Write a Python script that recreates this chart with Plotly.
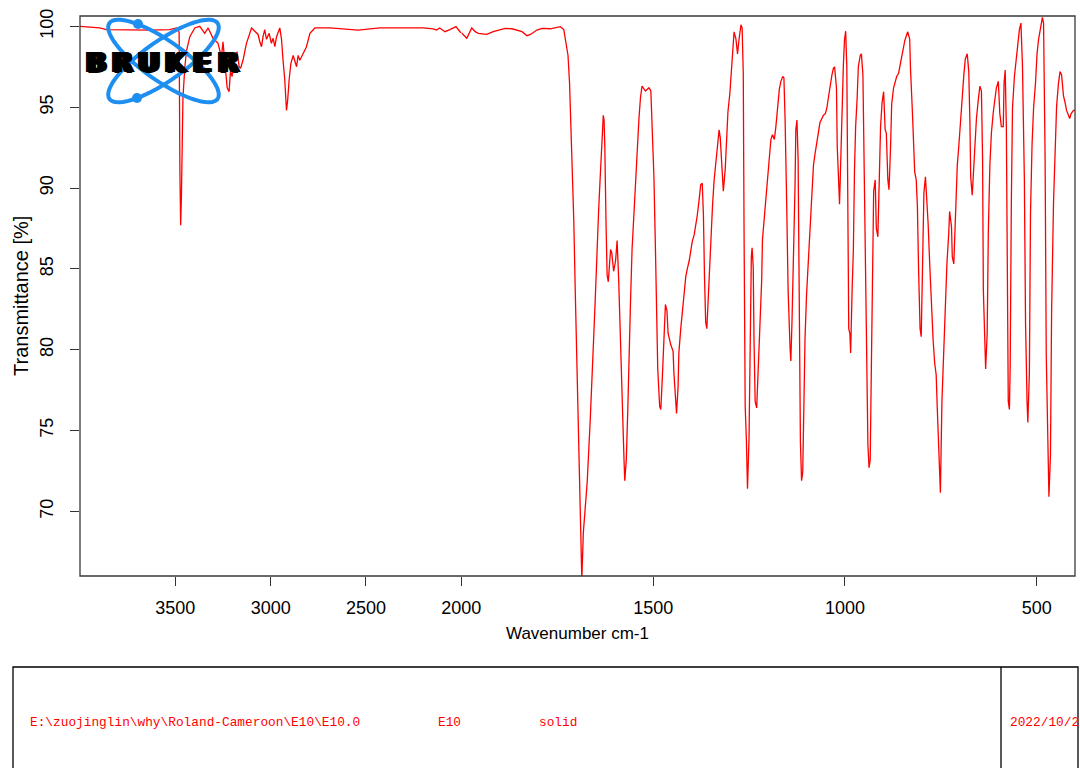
import numpy as np
import plotly.graph_objects as go

# ---------------- data ----------------
wn_high = [4000, 3897, 3861, 3756, 3634, 3529, 3494, 3484, 3480, 3476,
           3472, 3468, 3465, 3460, 3450, 3441, 3424, 3398, 3372, 3346,
           3328, 3302, 3276, 3258, 3250, 3241, 3228, 3218, 3211, 3202,
           3193, 3176, 3165, 3158, 3145, 3127, 3100, 3083, 3066, 3057,
           3048, 3040, 3031, 3022, 3008, 2996, 2987, 2978, 2969, 2952,
           2943, 2935, 2926, 2917, 2911, 2903, 2894, 2882, 2873, 2864,
           2856, 2847, 2830, 2812, 2794, 2768, 2688, 2654, 2611, 2541,
           2427, 2200, 2148, 2130, 2113, 2086, 2060, 2028, 2007, 2000]
tr_high = [100.0, 99.9, 99.8, 99.77, 99.77, 99.8, 99.9, 99.8, 99.6, 91.0,
           87.7, 89.5, 92.8, 95.6, 97.5, 98.5, 99.36, 99.9, 100.0, 99.57,
           99.9, 99.26, 98.95, 98.1, 99.05, 97.7, 96.2, 95.95, 97.2, 96.9,
           98.3, 98.4, 97.5, 97.4, 97.9, 98.95, 99.9, 99.7, 99.5, 99.05,
           98.74, 99.36, 99.8, 99.2, 99.57, 98.95, 99.26, 98.74, 99.36, 99.9,
           99.2, 97.9, 96.7, 94.8, 95.4, 96.7, 97.7, 98.2, 97.8, 97.5,
           98.2, 97.9, 98.3, 98.74, 99.57, 99.9, 99.9, 99.87, 99.85, 99.77,
           99.9, 99.9, 99.85, 99.77, 99.9, 99.67, 99.8, 99.98, 99.67, 99.6]

wn_low = [2000, 1995, 1986, 1973, 1964, 1956, 1934, 1917, 1899, 1886,
          1868, 1842, 1829, 1820, 1803, 1790, 1768, 1742, 1733, 1729,
          1722, 1718, 1711, 1707, 1703, 1698, 1694, 1690, 1686, 1682,
          1672, 1664, 1659, 1655, 1651, 1646, 1642, 1638, 1633, 1630,
          1628, 1626, 1623, 1620, 1617, 1611, 1608, 1603, 1598, 1594,
          1590, 1585, 1581, 1576, 1574, 1570, 1566, 1563, 1559, 1555,
          1550, 1546, 1542, 1537, 1533, 1529, 1520, 1511, 1506, 1502,
          1498, 1494, 1491, 1488, 1483, 1480, 1476, 1472, 1468, 1464,
          1461, 1454, 1448, 1446, 1441, 1439, 1435, 1433, 1428, 1424,
          1420, 1415, 1411, 1406, 1402, 1398, 1393, 1389, 1385, 1380,
          1376, 1372, 1369, 1366, 1363, 1360, 1356, 1352, 1348, 1345,
          1341, 1337, 1332, 1328, 1325, 1321, 1317, 1312, 1308, 1305,
          1300, 1296, 1291, 1289, 1284, 1280, 1276, 1271, 1268, 1265,
          1263, 1260, 1257, 1254, 1250, 1247, 1244, 1242, 1239, 1237,
          1234, 1230, 1226, 1222, 1217, 1215, 1210, 1206, 1202, 1197,
          1193, 1189, 1184, 1180, 1175, 1171, 1167, 1162, 1159, 1156,
          1152, 1148, 1143, 1141, 1138, 1134, 1130, 1128, 1125, 1122,
          1119, 1116, 1113, 1110, 1107, 1104, 1100, 1095, 1091, 1087,
          1082, 1078, 1074, 1069, 1065, 1060, 1056, 1051, 1047, 1043,
          1039, 1034, 1030, 1027, 1025, 1022, 1020, 1017, 1014, 1012,
          1008, 1004, 1001, 998, 995, 992, 990, 987, 985, 981,
          978, 975, 972, 968, 965, 960, 957, 953, 951, 947,
          944, 940, 937, 934, 931, 927, 925, 921, 918, 914,
          911, 907, 903, 899, 895, 892, 888, 885, 881, 878,
          873, 869, 865, 860, 855, 849, 844, 840, 836, 831,
          829, 824, 821, 818, 814, 811, 808, 804, 801, 797,
          794, 790, 787, 783, 779, 775, 770, 766, 762, 759,
          755, 751, 747, 742, 738, 734, 729, 727, 722, 720,
          716, 711, 707, 703, 699, 694, 690, 686, 681, 677,
          674, 672, 668, 665, 661, 657, 652, 648, 644, 641,
          639, 635, 633, 629, 626, 622, 618, 613, 609, 605,
          600, 596, 592, 587, 585, 582, 579, 577, 574, 571,
          569, 566, 563, 558, 554, 550, 545, 541, 537, 532,
          529, 525, 523, 519, 516, 512, 508, 503, 499, 495,
          490, 485, 482, 478, 475, 471, 468, 464, 461, 456,
          452, 448, 443, 439, 435, 430, 426, 422, 417, 414,
          410, 404, 400]
tr_low = [99.6, 99.46, 99.26, 99.9, 99.67, 99.57, 99.5, 99.67, 99.77, 99.87,
          99.85, 99.67, 99.42, 99.5, 99.77, 99.87, 99.85, 99.98, 99.8, 99.2,
          98.2, 96.5, 91.6, 88.0, 83.5, 78.3, 73.0, 69.2, 65.8, 68.7,
          71.8, 75.7, 78.1, 80.8, 83.1, 86.9, 88.7, 90.7, 92.9, 94.5,
          94.2, 92.5, 88.0, 84.6, 84.2, 86.2, 86.0, 84.85, 85.5, 86.75,
          84.4, 80.1, 76.1, 73.2, 71.9, 73.2, 76.4, 79.9, 83.0, 86.2,
          88.7, 90.5, 92.0, 94.3, 95.6, 96.3, 96.0, 96.2, 96.0, 93.8,
          90.7, 86.2, 82.4, 78.8, 76.5, 76.3, 78.3, 81.0, 82.8, 82.4,
          81.0, 80.3, 79.9, 78.6, 76.5, 76.05, 77.7, 79.8, 81.3, 82.4,
          83.3, 84.5, 85.0, 85.5, 86.1, 86.7, 87.1, 87.65, 88.3, 89.3,
          90.2, 90.3, 88.4, 84.4, 81.7, 81.3, 83.5, 85.7, 87.5, 89.0,
          90.5, 91.6, 92.7, 93.6, 93.1, 91.4, 89.8, 91.2, 93.6, 94.7,
          95.85, 97.4, 99.0, 99.66, 99.2, 98.3, 99.2, 100.1, 99.9, 97.1,
          87.5, 76.5, 74.5, 71.4, 74.5, 81.3, 85.75, 86.3, 85.1, 80.6,
          76.8, 76.4, 78.8, 81.5, 84.3, 86.8, 88.2, 89.8, 90.5, 91.9,
          93.0, 93.3, 93.0, 93.8, 95.2, 96.1, 96.6, 96.9, 96.8, 94.3,
          89.3, 83.6, 80.1, 79.3, 81.7, 85.5, 90.2, 93.6, 94.2, 91.8,
          83.3, 74.3, 71.9, 72.4, 76.5, 80.7, 83.4, 85.75, 87.8, 89.4,
          91.4, 92.1, 92.7, 93.6, 94.05, 94.3, 94.5, 94.6, 94.95, 95.6,
          96.3, 96.97, 97.4, 97.5, 97.0, 96.2, 92.6, 90.5, 89.0, 90.7,
          94.95, 97.6, 99.2, 99.7, 97.5, 88.7, 81.3, 81.0, 79.8, 83.9,
          86.1, 91.1, 93.8, 95.6, 97.5, 98.2, 98.3, 97.0, 93.0, 88.0,
          80.5, 74.1, 72.7, 73.2, 78.9, 85.97, 89.8, 90.5, 87.5, 86.98,
          90.0, 93.8, 95.3, 95.96, 93.6, 93.4, 90.5, 89.9, 92.5, 95.2,
          96.2, 96.6, 96.9, 97.1, 97.75, 98.4, 99.1, 99.4, 99.66, 99.2,
          97.4, 94.7, 92.5, 91.0, 90.5, 88.9, 85.1, 81.3, 80.8, 86.2,
          89.7, 90.7, 89.55, 87.8, 85.4, 82.8, 80.6, 79.2, 78.45, 76.3,
          73.1, 71.15, 76.8, 80.1, 83.05, 85.3, 87.3, 88.55, 87.6, 85.75,
          85.3, 88.7, 91.4, 92.6, 94.3, 95.6, 96.97, 97.98, 98.3, 97.2,
          94.05, 90.7, 89.55, 90.8, 92.9, 94.3, 95.5, 96.3, 96.0, 91.8,
          83.7, 81.0, 78.8, 81.0, 87.3, 91.4, 93.4, 94.7, 95.6, 96.2,
          96.6, 94.6, 93.8, 93.8, 96.5, 97.3, 93.8, 83.5, 76.8, 76.3,
          79.0, 89.1, 94.95, 96.9, 97.9, 98.8, 99.8, 100.2, 97.6, 90.5,
          81.7, 76.8, 75.5, 78.5, 88.45, 92.7, 94.95, 96.5, 98.3, 99.2,
          100.0, 100.56, 100.2, 92.0, 79.7, 73.5, 70.9, 73.5, 82.4, 89.1,
          92.8, 95.05, 96.5, 97.2, 97.0, 95.7, 95.3, 94.8, 94.5, 94.3,
          94.6, 94.8, 94.8]

x_ticks_high = [3500, 3000, 2500, 2000]
x_ticks_low = [1500, 1000, 500]
y_ticks = [70, 75, 80, 85, 90, 95, 100]

info_texts = ["E:\\zuojinglin\\why\\Roland-Cameroon\\E10\\E10.0", "E10", "solid", "2022/10/2"]
logo_letters = ["B", "R", "U", "K", "E", "R"]

# ---------------- layout geometry ----------------
W, H = 1080, 768
PL, PR, PT, PB = 80, 1075, 16, 576
SPLIT = (461.4 - PL) / (PR - PL)   # 4000-2000 part is drawn at half scale


def px(x):
    return (x - PL) / (PR - PL)


def py(y):
    return (PB - y) / (PB - PT)


RED = "#ff0000"
fig = go.Figure()
fig.add_trace(go.Scatter(x=wn_high, y=tr_high, xaxis="x", yaxis="y", mode="lines",
                         line=dict(color=RED, width=1.3), hoverinfo="skip", showlegend=False))
fig.add_trace(go.Scatter(x=wn_low, y=tr_low, xaxis="x2", yaxis="y", mode="lines",
                         line=dict(color=RED, width=1.3), hoverinfo="skip", showlegend=False))

tick_font = dict(family="Liberation Sans, Arial, sans-serif", size=18, color="#000000")
axis_common = dict(showgrid=False, zeroline=False, showline=False, ticks="outside",
                   ticklen=9, tickwidth=1.2, tickcolor="#333333", tickfont=tick_font,
                   fixedrange=True, automargin=False)

fig.update_layout(
    width=W, height=H, autosize=False,
    margin=dict(l=PL, r=W - PR, t=PT, b=H - PB, pad=0, autoexpand=False),
    paper_bgcolor="white", plot_bgcolor="white",
    xaxis=dict(domain=[0, SPLIT], range=[4000, 1999.5], tickmode="array",
               tickvals=x_ticks_high, ticktext=[str(v) for v in x_ticks_high],
               anchor="y", ticklabelstandoff=6, **axis_common),
    xaxis2=dict(domain=[SPLIT, 1], range=[2000, 400], tickmode="array",
                tickvals=x_ticks_low, ticktext=[str(v) for v in x_ticks_low],
                anchor="y", ticklabelstandoff=6, **axis_common),
    yaxis=dict(range=[66.0, 100.64], tickmode="array", tickvals=y_ticks,
               ticktext=[str(v) for v in y_ticks], tickangle=-90, anchor="x",
               ticklabelstandoff=10, **axis_common),
)

shapes = []
# plot frame
shapes.append(dict(type="rect", xref="paper", yref="paper", x0=0, x1=1, y0=0, y1=1,
                   line=dict(color="#3a3a3a", width=1.3), layer="above"))


# Bruker logo: two crossed orbits
def ellipse_path(cx, cy, a, b, theta_deg):
    t = np.linspace(0, 2 * np.pi, 90)
    th = np.radians(theta_deg)
    xs = cx + a * np.cos(t) * np.cos(th) - b * np.sin(t) * np.sin(th)
    ys = cy + a * np.cos(t) * np.sin(th) + b * np.sin(t) * np.cos(th)
    pts = [f"{px(x):.5f},{py(y):.5f}" for x, y in zip(xs, ys)]
    return "M " + " L ".join(pts) + " Z"


BLUE = "#1e8ff0"
for ang in (35, -35):
    shapes.append(dict(type="path", xref="paper", yref="paper",
                       path=ellipse_path(163.5, 61, 66, 20, ang),
                       line=dict(color=BLUE, width=4), layer="above"))
for (dx, dy) in [(138, 24), (137, 98)]:
    r = 5
    shapes.append(dict(type="circle", xref="paper", yref="paper",
                       x0=px(dx - r), x1=px(dx + r), y0=py(dy + r), y1=py(dy - r),
                       fillcolor=BLUE, line=dict(color=BLUE, width=0), layer="above"))

# info box below the chart
shapes.append(dict(type="rect", xref="paper", yref="paper",
                   x0=px(13), x1=px(1078), y0=py(820), y1=py(667),
                   line=dict(color="#000000", width=1.3), layer="above"))
shapes.append(dict(type="line", xref="paper", yref="paper",
                   x0=px(1001), x1=px(1001), y0=py(820), y1=py(667),
                   line=dict(color="#000000", width=1.3), layer="above"))

annotations = []
for i, ch in enumerate(logo_letters):
    annotations.append(dict(xref="paper", yref="paper", x=px(83 + 26.5 * (i + 0.5)), y=py(62),
                            text=f"<b>{ch}</b>", showarrow=False, xanchor="center", yanchor="middle",
                            font=dict(family="DejaVu Sans, sans-serif", size=27, color="#000000",
                                      shadow="2.5px 0 0 #000, -2.5px 0 0 #000, 1.2px 0 0 #000, -1.2px 0 0 #000, 0 1px 0 #000")))

annotations.append(dict(xref="paper", yref="paper", x=0.5, y=py(633), text="Wavenumber cm-1",
                        showarrow=False, xanchor="center", yanchor="middle",
                        font=dict(family="Liberation Sans, Arial, sans-serif", size=17, color="#000000")))
annotations.append(dict(xref="paper", yref="paper", x=px(21), y=py(296), text="Transmittance [%]",
                        showarrow=False, xanchor="center", yanchor="middle", textangle=-90,
                        font=dict(family="Liberation Sans, Arial, sans-serif", size=20, color="#000000")))

info_x = [28, 436, 537, 1008]
for txt, x in zip(info_texts, info_x):
    annotations.append(dict(xref="paper", yref="paper", x=px(x), y=py(722), text=txt,
                            showarrow=False, xanchor="left", yanchor="middle",
                            font=dict(family="Liberation Mono, monospace", size=12.8, color=RED)))

fig.update_layout(shapes=shapes, annotations=annotations)
fig.write_html("out.html", config={"responsive": False})
